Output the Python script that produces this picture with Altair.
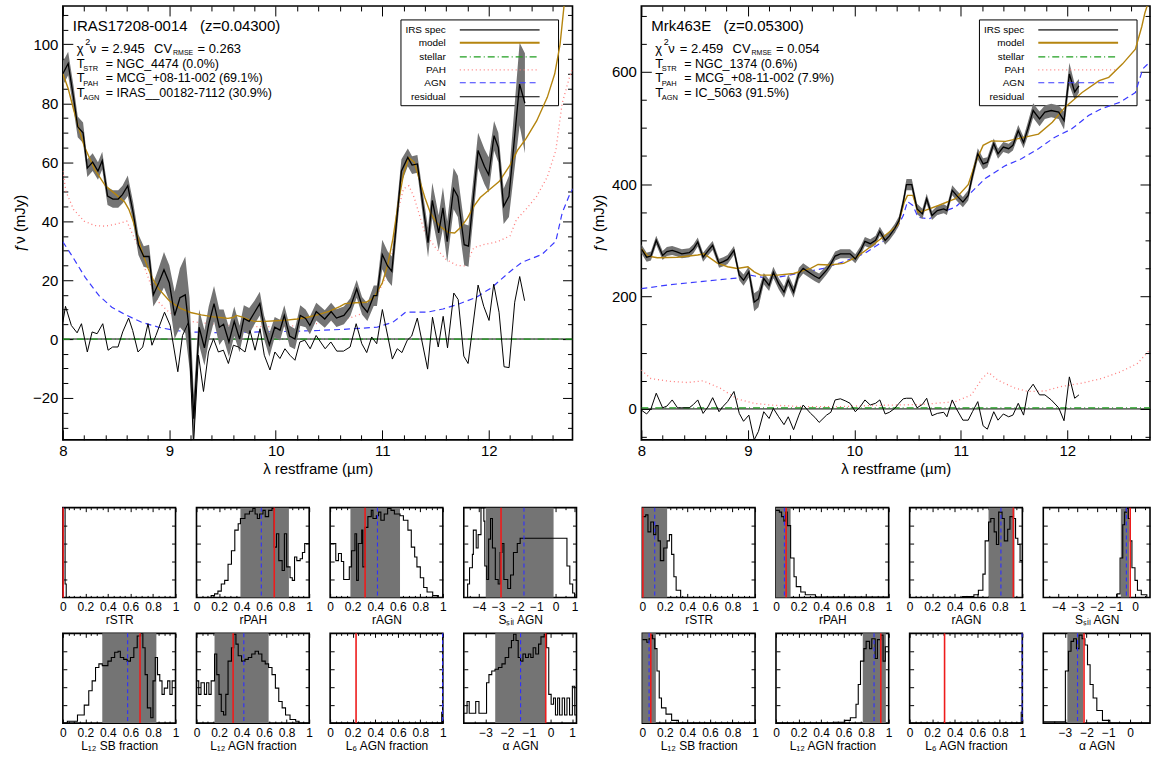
import altair as alt
import pandas as pd

FONT = "Liberation Sans"
NB = "\u00a0"

# ======================= DATA =======================
# ---------- IRAS17208-0014 spectrum panel ----------
g1_spec_lam = [8.00, 8.05, 8.10, 8.14, 8.19, 8.23, 8.28, 8.33, 8.37, 8.42,
               8.47, 8.52, 8.56, 8.61, 8.66, 8.71, 8.76, 8.81, 8.85, 8.90,
               8.95, 9.00, 9.05, 9.10, 9.15, 9.19, 9.23, 9.28, 9.33, 9.37,
               9.42, 9.47, 9.51, 9.56, 9.61, 9.66, 9.70, 9.75, 9.80, 9.85,
               9.89, 9.94, 9.99, 10.04, 10.08, 10.13, 10.18, 10.23, 10.28, 10.32,
               10.38, 10.46, 10.52, 10.57, 10.64, 10.70, 10.76, 10.81, 10.86, 10.92,
               10.95, 11.00, 11.05, 11.09, 11.18, 11.24, 11.28, 11.33, 11.38, 11.43,
               11.47, 11.53, 11.57, 11.61, 11.67, 11.71, 11.77, 11.81, 11.90, 11.96,
               12.00, 12.05, 12.09, 12.14, 12.19, 12.29, 12.34]
g1_spec_val = [90, 93.5, 82, 72, 70, 58, 60, 57, 60.5, 48.5,
               47.5, 47.5, 49, 52, 43, 32, 28, 28, 15, 19,
               23.5, 19, 8, 14, 15, 2, -27, 4, -3, 5,
               12, 4, 5, -1, 6, 0, 7, 6, 9, 12,
               4, -2, 4, 3, 8, 1, 0, 8, 7, 4.6,
               9.3, 6.8, 9.3, 7.1, 8, 10.8, 17, 11.3, 9.1, 14.7,
               14.7, 28.7, 24.8, 23, 57, 61.6, 59, 59.4, 46, 32.7,
               47, 36, 44.5, 33, 51, 48.4, 32, 31.5, 64, 58.5,
               55.7, 69, 65, 45, 48.4, 86.5, 80]
g1_spec_err = [4, 4, 4, 3.5, 3.5, 3, 3, 3, 3, 3,
               3, 3, 3, 3.5, 3.5, 3.5, 3.5, 4, 4, 5,
               6, 6, 8, 10, 13, 12, 8, 6, 6, 6,
               6, 6, 5, 5, 5, 4.5, 4.5, 4.5, 4, 4,
               4, 4, 3.5, 3.5, 3.5, 3.5, 3.5, 3.5, 3, 3,
               3, 3, 3, 3, 3, 3, 3, 3, 3, 3.5,
               3.5, 5, 5, 5, 4, 3, 3, 3, 4, 5,
               6, 6, 7, 7, 7, 7, 7, 7, 6, 6,
               6, 5, 5, 6, 7, 14, 17]
g1_res_lam = [8.0, 8.025, 8.08, 8.134, 8.175, 8.23, 8.275, 8.322, 8.375, 8.425,
              8.468, 8.518, 8.562, 8.618, 8.656, 8.706, 8.75, 8.8, 8.837, 8.874,
              8.955, 9.008, 9.08, 9.124, 9.18, 9.227, 9.274, 9.321, 9.368, 9.415,
              9.461, 9.508, 9.555, 9.602, 9.649, 9.711, 9.758, 9.805, 9.852, 9.892,
              9.945, 9.992, 10.039, 10.086, 10.133, 10.18, 10.226, 10.273,
              10.323, 10.379, 10.464, 10.517, 10.573, 10.636, 10.698, 10.755, 10.808, 10.854,
              10.901, 10.948, 11.001, 11.095, 11.141, 11.185, 11.235, 11.276, 11.329, 11.426,
              11.472, 11.526, 11.572, 11.613, 11.672, 11.713, 11.766, 11.806, 11.9, 11.953,
              12.003, 12.047, 12.097, 12.144, 12.191, 12.244, 12.291, 12.337]
g1_res_val = [5.7, 11.1, 4.6, 2.1, 5.2, -4.4, 2.4, 1.8, 5.2, -3.8,
              -2.7, -2.7, 2.4, 7.1, 2.9, -4.4, -2.7, 5.2, -2.1, 1.2,
              9.1, 4.6, -11.1, 1.2, 5.7, -35.8, -5.5, -17.8, -4.4, 0.1,
              -4.4, -3.8, -8.3, -2.1, -2.7, -4.4, 2.9, -3.8, 3.5, -5.5,
              -10.5, -4.4, -6.6, -3.3, -5.5, -7.2, -1, -0.4,
              -3.3, 1.2, -3.3, -1, -4.1, -4.1, -2.7, 5.2, -1.6, -4.6,
              0.7, -1.6, 10, -6.8, -3.3, -4.6, -0.4, 1, 7.1, -10.2,
              7.4, -2.7, 7.7, -3, 15.6, 13.4, -5.8, -8.3, 18.3, 11.1,
              6.3, 18.6, 9.1, -9.4, -9.7, 12.5, 21.2, 13]
g1_model_lam = [8.0, 8.05, 8.1, 8.15, 8.2, 8.3, 8.4, 8.5, 8.58, 8.62,
                8.66, 8.7, 8.75, 8.8, 8.85, 8.9, 9.0, 9.1, 9.2, 9.3,
                9.4, 9.5, 9.55, 9.6, 9.63, 9.68, 9.75, 9.8, 9.9, 10.0,
                10.1, 10.2, 10.3, 10.4, 10.5, 10.6, 10.65, 10.75, 10.85, 10.92,
                11.0, 11.05, 11.1, 11.15, 11.2, 11.25, 11.3, 11.35, 11.4, 11.45,
                11.5, 11.55, 11.62, 11.68, 11.74, 11.8, 11.86, 11.92, 12.0, 12.1,
                12.2, 12.27, 12.35, 12.45, 12.55, 12.62, 12.67, 12.71, 12.79]
g1_model_val = [90, 85, 78, 71.5, 65.5, 57.5, 52, 49, 46.5, 44,
                40, 35, 29, 24, 20, 17, 13, 10.5, 9.0, 8.2,
                7.6, 7.2, 7.0, 7.3, 8.0, 7.5, 6.5, 6.0, 6.0, 6.2,
                6.4, 6.8, 7.4, 8.3, 9.4, 11, 12, 12.3, 12.5, 14,
                19, 25, 34, 46, 56, 61.5, 60, 54, 48, 43,
                40, 38, 36.2, 36, 38, 41, 45, 48, 50.5, 53.5,
                59, 64, 68, 74, 82, 90, 100, 114, 135]
g1_pah_lam = [8.0, 8.03, 8.1, 8.2, 8.3, 8.4, 8.5, 8.55, 8.6, 8.65,
              8.7, 8.75, 8.8, 8.85, 8.9, 9.0, 9.1, 9.2, 9.3, 9.5,
              9.7, 9.9, 10.1, 10.3, 10.5, 10.7, 10.8, 10.9, 10.95, 11.05,
              11.1, 11.15, 11.2, 11.25, 11.3, 11.35, 11.4, 11.5, 11.6, 11.7,
              11.78, 11.86, 11.95, 12.08, 12.2, 12.26, 12.35, 12.45, 12.55, 12.63,
              12.69, 12.76, 12.79]
g1_pah_val = [57, 50, 44, 40, 38.5, 38.3, 39, 39.5, 40, 36,
              32, 26, 21, 16, 12.5, 9, 7.4, 6, 5.5, 4.8,
              4.2, 4.2, 4.3, 4.8, 5.8, 7.2, 8.5, 11, 14.7, 22.5,
              30, 44, 51, 52, 48, 42, 36, 31, 27, 25,
              24.8, 31, 32, 33, 35, 40.5, 44, 48.4, 55, 64,
              80, 89, 92]
g1_agn_lam = [8.0, 8.09, 8.21, 8.34, 8.46, 8.59, 8.74, 8.9, 9.05, 9.21,
              9.52, 9.84, 10.15, 10.4, 10.64, 10.95, 11.1, 11.22, 11.42, 11.57,
              11.72, 11.88, 12.03, 12.19, 12.31, 12.5, 12.63, 12.69, 12.76, 12.79]
g1_agn_val = [33, 28, 20.9, 14.7, 10.8, 8.2, 5.7, 4.0, 2.9, 2.4,
              2.1, 2.4, 2.6, 2.9, 3.3, 4.0, 5.7, 9.1, 9.1, 10.2,
              11.9, 14.1, 17.5, 22.6, 26, 28.7, 33.2, 42.8, 49, 51]
g1_stellar_lam = [8.0, 12.79]
g1_stellar_val = [0, 0]
g1_header = "IRAS17208-0014" + NB * 3 + "(z=0.04300)"
g1_chi = "2.945"
g1_cv = "0.263"
g1_templates = ["NGC_4474 (0.0%)", "MCG_+08-11-002 (69.1%)", "IRAS__00182-7112 (30.9%)"]

# ---------- Mrk463E spectrum panel ----------
g2_spec_lam = [8.0, 8.05, 8.09, 8.14, 8.2, 8.24, 8.29, 8.34, 8.38, 8.45,
               8.49, 8.53, 8.58, 8.63, 8.67, 8.73, 8.77, 8.81, 8.87, 8.92,
               8.96, 9.01, 9.06, 9.1, 9.15, 9.2, 9.24, 9.29, 9.34, 9.38,
               9.43, 9.48, 9.52, 9.59, 9.63, 9.67, 9.74, 9.78, 9.82, 9.87,
               9.92, 9.96, 10.01, 10.06, 10.1, 10.15, 10.2, 10.24, 10.29, 10.33,
               10.38, 10.42, 10.46, 10.49, 10.54, 10.59, 10.64, 10.68, 10.73, 10.78,
               10.84, 10.87, 10.92, 10.96, 11.02, 11.07, 11.11, 11.16, 11.21, 11.25,
               11.31, 11.35, 11.4, 11.45, 11.49, 11.54, 11.59, 11.63, 11.68, 11.74,
               11.79, 11.85, 11.92, 11.97, 12.02, 12.07, 12.11]
g2_spec_val = [285, 270, 272, 300, 273, 280, 282, 279, 276, 278,
               285, 297, 270, 282, 291, 259, 262, 266, 282, 238,
               229, 244, 190, 196, 232, 220, 243, 223, 208, 229,
               208, 241, 250, 241, 236, 232, 247, 258, 272, 276,
               276, 276, 267, 282, 298, 294, 300, 316, 300, 308,
               321, 335, 368, 399, 399, 356, 347, 374, 344, 353,
               356, 353, 389, 380, 368, 380, 415, 454, 436, 439,
               472, 454, 466, 463, 469, 495, 474, 498, 531, 516,
               528, 531, 528, 513, 596, 564, 575]
g2_spec_err = [8, 8, 8, 8, 8, 8, 8, 8, 8, 8,
               8, 8, 8, 8, 8, 8, 8, 8, 8, 9,
               10, 10, 16, 15, 10, 10, 10, 10, 10, 10,
               10, 10, 9, 9, 9, 9, 8, 8, 8, 8,
               8, 8, 8, 8, 8, 8, 8, 8, 8, 8,
               8, 8, 9, 10, 10, 9, 9, 9, 8, 8,
               8, 8, 9, 9, 9, 9, 10, 10, 10, 9,
               9, 9, 9, 9, 9, 10, 10, 12, 13, 13,
               12, 12, 12, 16, 20, 14, 12]
g2_res_val = [-2, -9, 0, 28, 2, 5, 16, 2, 2, 2,
              8, 16, -8, 5, 20, -5, 5, 13, 31, -8,
              -22, -11, -55, -40, -5, -17, 1, -14, -28, -14,
              -37, -11, 7, -8, -15, -24, -11, -6, 16, 18,
              14, 10, -5, 5, 16, 7, 10, 16, -9, -6,
              1, 10, 18, 19, 19, 2, 8, 19, -12, -8,
              -6, -14, 16, 0, -20, -20, -5, 13, -30, -36,
              -5, -20, -9, -14, -11, 10, -11, 31, 44, 25,
              25, 16, 2, -21, 57, 19, 25]
g2_model_lam = [8.0, 8.06, 8.15, 8.34, 8.53, 8.59, 8.71, 8.81, 8.9, 9.0,
                9.06, 9.12, 9.28, 9.43, 9.59, 9.66, 9.77, 9.9, 10.02, 10.15,
                10.27, 10.35, 10.41, 10.47, 10.5, 10.55, 10.6, 10.66, 10.79, 10.95,
                11.07, 11.14, 11.21, 11.29, 11.42, 11.54, 11.73, 11.86, 11.98, 12.14,
                12.3, 12.39, 12.52, 12.64, 12.7, 12.73, 12.79]
g2_model_val = [285, 272, 269, 270, 274, 276, 260, 253, 250, 253,
                244, 238, 238, 241, 250, 257, 256, 259, 270, 288,
                306, 318, 327, 368, 380, 380, 350, 353, 362, 374,
                399, 439, 469, 477, 476, 481, 489, 510, 537, 563,
                584, 590, 614, 640, 680, 705, 740]
g2_pah_lam = [8.0, 8.09, 8.27, 8.43, 8.58, 8.74, 8.9, 9.06, 9.21, 9.52,
              9.84, 10.15, 10.4, 10.64, 10.95, 11.1, 11.2, 11.26, 11.35, 11.51,
              11.63, 11.79, 11.95, 12.14, 12.32, 12.5, 12.66, 12.79]
g2_pah_val = [69, 54, 49, 47, 50, 37, 18, 10, 7, 4,
              4, 6, 7, 8, 13, 25, 54, 65, 51, 37,
              31, 32, 40, 46, 54, 66, 81, 108]
g2_agn_lam = [8.0, 8.27, 8.58, 8.9, 9.02, 9.2, 9.36, 9.52, 9.71, 9.9,
              10.09, 10.27, 10.38, 10.46, 10.5, 10.55, 10.6, 10.7, 10.82, 10.95,
              11.07, 11.23, 11.42, 11.57, 11.73, 11.88, 12.04, 12.2, 12.32, 12.5,
              12.64, 12.71, 12.79]
g2_agn_val = [214, 221, 227, 233, 238, 232, 237, 243, 250, 262,
              276, 298, 315, 344, 369, 362, 341, 338, 350, 359,
              380, 410, 433, 445, 463, 483, 498, 522, 534, 546,
              563, 605, 620]
g2_stellar_lam = [8.0, 12.79]
g2_stellar_val = [2, 2]
g2_header = "Mrk463E" + NB * 3 + "(z=0.05300)"
g2_chi = "2.459"
g2_cv = "0.054"
g2_templates = ["NGC_1374 (0.6%)", "MCG_+08-11-002 (7.9%)", "IC_5063 (91.5%)"]

template_subs = ["STR", "PAH", "AGN"]
legend_labels = ["IRS spec", "model", "stellar", "PAH", "AGN", "residual"]

# ---------- posterior panels ----------
par_titles = ["rSTR", "rPAH", "rAGN", "Sₛᵢₗ AGN",
              "L₁₂ SB fraction", "L₁₂ AGN fraction", "L₆ AGN fraction", "α AGN"]
frac_ticks = [0, 0.2, 0.4, 0.6, 0.8, 1]
frac_minor = [0.05, 0.1, 0.15, 0.25, 0.3, 0.35, 0.45, 0.5, 0.55, 0.65, 0.7, 0.75, 0.85, 0.9, 0.95]
ssil_ticks = [-4, -3, -2, -1, 0, 1]
ssil_minor = [-4.5, -3.5, -2.5, -1.5, -0.5, 0.5]
alpha_ticks = [-3, -2, -1, 0, 1]
alpha_minor = [-3.5, -2.5, -1.5, -0.5, 0.5]
hist_yticks = [0.2, 0.4, 0.6, 0.8]

# IRAS17208-0014 posteriors
p1_x = [
    [0, 0.02, 0.03, 1.0],
    [0, 0.13, 0.16, 0.19, 0.22, 0.25, 0.28, 0.31, 0.34, 0.37, 0.39, 0.43, 0.47, 0.5, 0.52, 0.54, 0.56, 0.59,
     0.61, 0.64, 0.67, 0.69, 0.71, 0.73, 0.76, 0.78, 0.8, 0.83, 0.85, 0.87, 0.89, 0.92, 0.94, 0.96, 0.98, 1.0],
    [0, 0.05, 0.074, 0.1, 0.12, 0.15, 0.17, 0.19, 0.22, 0.235, 0.25, 0.28, 0.29, 0.31, 0.335, 0.365, 0.38, 0.41,
     0.43, 0.45, 0.48, 0.51, 0.54, 0.57, 0.62, 0.65, 0.69, 0.72, 0.75, 0.77, 0.8, 0.83, 0.86, 0.91, 0.96, 1.0],
    [-4.8, -4.6, -4.5, -4.35, -4.3, -4.15, -4.05, -3.9, -3.75, -3.7, -3.6, -3.5, -3.4, -3.3, -3.15, -3.0, -2.9,
     -2.8, -2.7, -2.5, -2.35, -2.2, -2.0, -1.85, 0.55, 0.6, 0.75, 0.9, 1.0, 1.1],
    [0, 0.04, 0.13, 0.19, 0.23, 0.26, 0.29, 0.32, 0.35, 0.4, 0.43, 0.46, 0.49, 0.51, 0.54, 0.57, 0.6, 0.63, 0.66,
     0.69, 0.71, 0.73, 0.75, 0.78, 0.8, 0.82, 0.84, 0.86, 0.88, 0.9, 0.93, 0.95, 0.97, 1.0],
    [0, 0.02, 0.04, 0.07, 0.09, 0.11, 0.13, 0.16, 0.18, 0.2, 0.22, 0.24, 0.26, 0.28, 0.31, 0.33, 0.35, 0.37, 0.4,
     0.43, 0.46, 0.49, 0.52, 0.55, 0.58, 0.61, 0.64, 0.67, 0.7, 0.73, 0.76, 0.79, 0.83, 0.88, 0.91, 1.0],
    [0, 0.99, 1.0],
    [-4, -3.85, -3.75, -3.6, -3.45, -3.3, -3.1, -2.95, -2.84, -2.71, -2.56, -2.4, -2.24, -2.09, -1.93, -1.8, -1.7,
     -1.59, -1.49, -1.38, -1.27, -1.15, -1.02, -0.91, -0.8, -0.68, -0.55, -0.44, -0.29, -0.18, -0.08, 0.03, 0.14,
     0.23, 0.33, 0.42, 0.54, 0.65, 0.76, 0.88, 1.01, 1.12, 1.2],
]
p1_y = [
    [1.0, 0.15, 0.0, 0.0],
    [0, 0.02, 0.04, 0.07, 0.15, 0.19, 0.37, 0.52, 0.75, 0.82, 0.88, 0.93, 0.96, 0.99, 0.93, 0.88, 0.93, 0.97,
     0.9, 0.97, 0.99, 0.56, 0.71, 0.41, 0.3, 0.71, 0.34, 0.22, 0.19, 0.45, 0.41, 0.43, 0.5, 0.6, 0.6, 0.6],
    [0.6, 0.41, 0.49, 0.4, 0.2, 0.2, 0.34, 0.52, 0.71, 0.19, 0.6, 0.75, 0.34, 0.78, 0.9, 0.97, 0.88, 0.91,
     0.95, 0.86, 0.93, 0.99, 0.97, 0.93, 0.91, 0.86, 0.75, 0.56, 0.45, 0.34, 0.22, 0.11, 0.06, 0.02, 0.0, 0.0],
    [0.0, 0.15, 0.33, 0.48, 0.75, 0.55, 0.7, 1.0, 0.85, 0.35, 0.2, 0.65, 0.88, 0.55, 0.2, 0.15, 0.5,
     0.6, 0.2, 0.1, 0.25, 0.5, 0.6, 0.66, 0.66, 0.35, 0.15, 0.05, 0.0, 0.0],
    [0.0, 0.02, 0.09, 0.2, 0.36, 0.47, 0.62, 0.66, 0.64, 0.69, 0.73, 0.79, 0.8, 0.73, 0.71, 0.69, 0.73, 0.84, 0.97,
     1.0, 0.84, 0.54, 0.17, 0.06, 0.47, 0.73, 0.54, 0.47, 0.32, 0.39, 0.47, 0.32, 0.47, 0.32],
    [0.47, 0.32, 0.45, 0.32, 0.45, 0.32, 0.47, 0.77, 0.54, 0.32, 0.13, 0.09, 0.32, 0.69, 0.84, 0.99, 0.88, 0.75, 0.69,
     0.71, 0.73, 0.77, 0.8, 0.77, 0.69, 0.66, 0.62, 0.54, 0.39, 0.24, 0.17, 0.09, 0.04, 0.02, 0.0, 0.0],
    [0.0, 0.12, 0.12],
    [0.11, 0.24, 0.11, 0.11, 0.24, 0.11, 0.11, 0.45, 0.54, 0.58, 0.6, 0.62, 0.66, 0.73, 0.84, 0.92, 0.99,
     0.92, 0.73, 0.69, 0.77, 0.73, 0.77, 0.73, 0.84, 0.77, 0.88, 0.96, 0.99, 0.84, 0.32, 0.21, 0.28,
     0.09, 0.28, 0.09, 0.28, 0.09, 0.28, 0.09, 0.41, 0.09, 0.09],
]
p1_band = [None, [0.39, 0.82], [0.18, 0.62], [-3.65, -0.1], [0.35, 0.83], [0.16, 0.64], None, [-2.55, -0.22]]
p1_median = [0.006, 0.575, 0.42, -1.65, 0.575, 0.42, 0.998, -1.38]
p1_best = [0.003, 0.69, 0.31, -2.85, 0.685, 0.325, 0.23, -0.22]

# Mrk463E posteriors
p2_x = [
    [0, 0.03, 0.05, 0.075, 0.1, 0.12, 0.14, 0.16, 0.19, 0.22, 0.24, 0.26, 0.28, 0.3, 0.34, 1.0],
    [0, 0.03, 0.05, 0.07, 0.085, 0.1, 0.13, 0.16, 0.18, 0.22, 0.26, 0.35, 1.0],
    [0, 0.47, 0.57, 0.61, 0.65, 0.67, 0.7, 0.72, 0.75, 0.77, 0.79, 0.82, 0.84, 0.87, 0.89, 0.92, 0.94, 0.96,
     0.98, 1.0],
    [-4.8, -1.5, -0.93, -0.78, -0.64, -0.54, -0.45, -0.35, -0.25, -0.16, 0.0, 0.13, 0.33, 0.62, 1.1],
    [0, 0.04, 0.06, 0.075, 0.09, 0.11, 0.13, 0.15, 0.17, 0.21, 0.26, 0.32, 1.0],
    [0, 0.51, 0.61, 0.66, 0.71, 0.73, 0.75, 0.78, 0.8, 0.83, 0.85, 0.88, 0.9, 0.93, 0.95, 0.97, 1.0],
    [0, 0.99, 1.0],
    [-4, -3.15, -2.98, -2.84, -2.72, -2.6, -2.47, -2.35, -2.21, -2.08, -1.96, -1.84, -1.7, -1.53, -1.27, -0.93,
     1.2],
]
p2_y = [
    [0.9, 0.92, 0.73, 0.84, 0.7, 0.8, 0.63, 0.41, 0.55, 0.63, 0.7, 0.48, 0.23, 0.08, 0.0, 0.0],
    [0.97, 0.95, 0.9, 0.85, 0.95, 0.8, 0.44, 0.23, 0.12, 0.06, 0.03, 0.005, 0.0],
    [0.0, 0.01, 0.03, 0.08, 0.26, 0.63, 0.84, 0.88, 0.73, 0.59, 0.95, 0.88, 0.63, 0.76, 0.9, 0.88, 0.66, 0.59,
     0.41, 0.41],
    [0.0, 0.0, 0.04, 0.44, 0.81, 0.95, 0.99, 0.88, 0.63, 0.33, 0.19, 0.08, 0.03, 0.0, 0.0],
    [0.93, 0.9, 0.94, 0.98, 0.94, 0.83, 0.58, 0.28, 0.17, 0.1, 0.03, 0.0, 0.0],
    [0.0, 0.01, 0.03, 0.06, 0.21, 0.43, 0.69, 0.83, 0.91, 0.83, 0.94, 0.72, 0.93, 0.98, 0.69, 0.85, 0.87],
    [0.0, 0.12, 0.12],
    [0.015, 0.015, 0.58, 0.8, 0.91, 0.94, 0.83, 0.98, 0.94, 0.87, 0.65, 0.43, 0.28, 0.14, 0.03, 0.0, 0.0],
]
p2_band = [[0.0, 0.22], [0.0, 0.13], [0.7, 0.93], [-0.74, -0.31], [0.0, 0.12], [0.77, 0.975], None, [-2.89, -2.16]]
p2_median = [0.11, 0.075, 0.81, -0.45, 0.06, 0.87, 0.998, -2.42]
p2_best = [0.005, 0.09, 0.92, -0.25, 0.075, 0.93, 0.31, -2.12]

# ======================= LAYOUT / STYLE =======================
BIG_W1, BIG_W2, BIG_H = 511, 510, 435
SM_W, SM_H = 113, 90
LEG_BOX = (339, 497, 14, 100)
LEG_ROWS = [24, 37, 51, 64, 77, 91]
LEG_TXT_X, LEG_L0, LEG_L1 = 384, 398, 478
LEG_STYLE = [dict(color="#555555", strokeWidth=1.6),
             dict(color="#b5850f", strokeWidth=2.0),
             dict(color="#1f9e1f", strokeWidth=1.3, strokeDash=[7, 3, 1, 3]),
             dict(color="#ff7b7b", strokeWidth=1.3, strokeDash=[1, 3]),
             dict(color="#3a3aff", strokeWidth=1.2, strokeDash=[6, 4]),
             dict(color="black", strokeWidth=1.2)]

one = pd.DataFrame({"k": [0]})


def ax(orient, values, size, labels=False, title="", **kw):
    return alt.Axis(orient=orient, values=values, tickSize=size, offset=-size, labels=labels,
                    domain=False, grid=False, title=title, tickColor="black", tickWidth=1,
                    labelFlush=False, labelOverlap=False, **kw)


def tick_layer(df, xf, xs, xvals, xorient, size, yf, ys, yvals, yorient):
    return alt.Chart(df).mark_point(opacity=0, size=0).encode(
        x=alt.X(f"{xf}:Q", scale=xs, axis=ax(xorient, xvals, size)),
        y=alt.Y(f"{yf}:Q", scale=ys, axis=ax(yorient, yvals, size)))


def text(t, x, y, size, align="left"):
    return alt.Chart(one).mark_text(text=t, align=align, baseline="middle", fontSize=size,
                                    font=FONT, color="black").encode(x=alt.value(x), y=alt.value(y))


def big_panel(W, spec_lam, spec_val, spec_err, res_lam, res_val, model_lam, model_val,
              pah_lam, pah_val, agn_lam, agn_val, st_lam, st_val, ydom, ymaj, ymin,
              header, chi, cv, templates):
    xmax = 8 + W / 106.75
    xs = alt.Scale(domain=[8, xmax], nice=False, zero=False)
    ys = alt.Scale(domain=ydom, nice=False, zero=False)
    X = alt.X("lam:Q", scale=xs, axis=None)
    Y = alt.Y("val:Q", scale=ys, axis=None)
    spec = pd.DataFrame({"lam": spec_lam, "val": spec_val, "err": spec_err})
    spec["lo"] = spec["val"] - spec["err"]
    spec["hi"] = spec["val"] + spec["err"]

    layers = [
        alt.Chart(one).mark_rect(fill="white", stroke="black", strokeWidth=1).encode(
            x=alt.value(LEG_BOX[0]), x2=alt.value(LEG_BOX[1]), y=alt.value(LEG_BOX[2]), y2=alt.value(LEG_BOX[3])),
        alt.Chart(pd.DataFrame({"lam": pah_lam, "val": pah_val})).mark_line(clip=True, **LEG_STYLE[3]).encode(x=X, y=Y),
        alt.Chart(pd.DataFrame({"lam": agn_lam, "val": agn_val})).mark_line(clip=True, **LEG_STYLE[4]).encode(x=X, y=Y),
        alt.Chart(pd.DataFrame({"val": [0]})).mark_rule(color="black", strokeWidth=1).encode(y=Y),
        alt.Chart(pd.DataFrame({"lam": st_lam, "val": st_val})).mark_line(clip=True, **LEG_STYLE[2]).encode(x=X, y=Y),
        alt.Chart(spec).mark_area(color="#747474", opacity=1, clip=True).encode(
            x=X, y=alt.Y("lo:Q", scale=ys, axis=None), y2="hi:Q"),
        alt.Chart(pd.DataFrame({"lam": model_lam, "val": model_val})).mark_line(
            clip=True, color="#b5850f", strokeWidth=1.4).encode(x=X, y=Y),
        alt.Chart(spec).mark_line(color="black", strokeWidth=1.3, clip=True).encode(
            x=alt.X("lam:Q", scale=xs, axis=ax("bottom", [8, 9, 10, 11, 12], 10, labels=True,
                                                title="λ restframe (µm)", labelFontSize=15, titleFontSize=15,
                                                labelPadding=4, titlePadding=3)),
            y=alt.Y("val:Q", scale=ys, axis=ax("left", ymaj, 10, labels=True, title="ƒν (mJy)",
                                                labelFontSize=15, titleFontSize=15, labelPadding=5,
                                                titlePadding=5))),
        alt.Chart(pd.DataFrame({"lam": res_lam, "val": res_val})).mark_line(
            clip=True, color="black", strokeWidth=1).encode(x=X, y=Y),
    ]
    for lab, yy, st in zip(legend_labels, LEG_ROWS, LEG_STYLE):
        layers.append(text(lab, LEG_TXT_X, yy, 10, align="right"))
        layers.append(alt.Chart(one).mark_rule(**st).encode(
            x=alt.value(LEG_L0), x2=alt.value(LEG_L1), y=alt.value(yy)))
    # header and fit statistics
    layers.append(text(header, 10, 20, 15))
    layers.append(text("χ", 14, 43, 13))
    layers.append(text("2", 22.5, 36.5, 9))
    layers.append(text("ν", 27, 43, 13))
    layers.append(text("= " + chi, 38.5, 43, 13))
    layers.append(text("CV", 91.5, 43, 13))
    layers.append(text("RMSE", 110.5, 47, 7))
    layers.append(text("= " + cv, 135, 43, 13))
    for i, (sub, tv) in enumerate(zip(template_subs, templates)):
        yy = 58 + 14.5 * i
        layers.append(text("T", 14, yy, 13))
        layers.append(text(sub, 20.5, yy + 5.5, 7.5))
        layers.append(text("= " + tv, 43, yy, 12.5))

    xmin = [round(8 + 0.2 * k, 1) for k in range(1, 24) if k % 5 != 0]
    dummy = pd.DataFrame({"lam": [8.0], "val": [0.0]})
    layers.append(tick_layer(dummy, "lam", xs, [8, 9, 10, 11, 12], "top", 10, "val", ys, ymaj, "right"))
    layers.append(tick_layer(dummy, "lam", xs, xmin, "bottom", 5, "val", ys, ymin, "left"))
    layers.append(tick_layer(dummy, "lam", xs, xmin, "top", 5, "val", ys, ymin, "right"))
    return alt.layer(*layers).resolve_axis(x="independent", y="independent").properties(
        width=W, height=BIG_H)


def small_panel(hx, hy, band, med, best, dom, ticks, minor, title, W=SM_W):
    xs = alt.Scale(domain=dom, nice=False, zero=False)
    ys = alt.Scale(domain=[0, 1], nice=False, zero=False)
    tk = [t for t in ticks if dom[0] <= t <= dom[1]]
    mn = [t for t in minor if dom[0] <= t <= dom[1]]
    layers = []
    if band is not None:
        layers.append(alt.Chart(pd.DataFrame({"x": [band[0]], "x2": [band[1]]})).mark_rect(
            color="#747474").encode(x=alt.X("x:Q", scale=xs, axis=None), x2="x2:Q",
                                    y=alt.value(0), y2=alt.value(SM_H)))
    layers.append(alt.Chart(pd.DataFrame({"x": hx, "y": hy})).mark_line(
        interpolate="step-after", color="black", strokeWidth=1.1, clip=True).encode(
        x=alt.X("x:Q", scale=xs, axis=ax("bottom", tk, 4, labels=True, title=title, format="~g",
                                          labelFontSize=12, titleFontSize=12,
                                          labelPadding=4, titlePadding=2)),
        y=alt.Y("y:Q", scale=ys, axis=ax("left", hist_yticks, 4))))
    layers.append(alt.Chart(pd.DataFrame({"x": [med]})).mark_rule(
        color="#2f2fff", strokeDash=[4, 3], strokeWidth=1.1).encode(x=alt.X("x:Q", scale=xs, axis=None)))
    layers.append(alt.Chart(pd.DataFrame({"x": [best]})).mark_rule(
        color="#ee1c1c", strokeWidth=1.6).encode(x=alt.X("x:Q", scale=xs, axis=None)))
    dummy = pd.DataFrame({"x": [dom[0]], "y": [0.0]})
    layers.append(tick_layer(dummy, "x", xs, tk, "top", 4, "y", ys, hist_yticks, "right"))
    layers.append(tick_layer(dummy, "x", xs, mn, "bottom", 2, "y", ys, [], "left"))
    layers.append(tick_layer(dummy, "x", xs, mn, "top", 2, "y", ys, [], "right"))
    return alt.layer(*layers).resolve_axis(x="independent", y="independent").properties(
        width=W, height=SM_H)


def spacer(w):
    return alt.Chart(one).mark_point(opacity=0, size=0).encode(
        x=alt.X("k:Q", axis=None), y=alt.Y("k:Q", axis=None)).properties(
        width=w, height=SM_H, view=alt.ViewBackground(strokeOpacity=0))


def panel_list(px, py, pband, pmed, pbest, idx, right_clip=False):
    out = []
    for i in idx:
        if i in (0, 1, 2, 4, 5, 6):
            dom, ticks, minor = [0, 1], frac_ticks, frac_minor
        elif i == 3:
            dom, ticks, minor = [-4.8, 1.1], ssil_ticks, ssil_minor
        else:
            dom, ticks, minor = [-4.0, 1.2], alpha_ticks, alpha_minor
        W = SM_W
        if right_clip and i in (3, 7):
            W = 107
            dom = [dom[0], dom[0] + (dom[1] - dom[0]) * W / SM_W]
        out.append(small_panel(px[i], py[i], pband[i], pmed[i], pbest[i], dom, ticks, minor,
                               par_titles[i], W=W))
    return out


tl = big_panel(BIG_W1, g1_spec_lam, g1_spec_val, g1_spec_err, g1_res_lam, g1_res_val,
               g1_model_lam, g1_model_val, g1_pah_lam, g1_pah_val, g1_agn_lam, g1_agn_val,
               g1_stellar_lam, g1_stellar_val, [-34.2, 113.0], [-20, 0, 20, 40, 60, 80, 100],
               [v for v in range(-30, 115, 5) if v % 20 != 0], g1_header, g1_chi, g1_cv, g1_templates)
tr = big_panel(BIG_W2, g2_spec_lam, g2_spec_val, g2_spec_err, g2_spec_lam, g2_res_val,
               g2_model_lam, g2_model_val, g2_pah_lam, g2_pah_val, g2_agn_lam, g2_agn_val,
               g2_stellar_lam, g2_stellar_val, [-55.0, 717.0], [0, 200, 400, 600],
               [v for v in range(-50, 720, 50) if v % 200 != 0], g2_header, g2_chi, g2_cv, g2_templates)

top = alt.hconcat(tl, tr, spacing=69, bounds="flush")
rows = []
for idx in ([0, 1, 2, 3], [4, 5, 6, 7]):
    left = panel_list(p1_x, p1_y, p1_band, p1_median, p1_best, idx)
    right = panel_list(p2_x, p2_y, p2_band, p2_median, p2_best, idx, right_clip=True)
    rows.append(alt.hconcat(*left, spacer(24), *right, spacing=21, bounds="flush"))
bottom = alt.vconcat(*rows, spacing=5, bounds="full")

chart = alt.vconcat(top, bottom, spacing=28, bounds="full").properties(
    padding={"left": 11, "top": 3, "right": 0, "bottom": 0}
).configure(font=FONT).configure_view(stroke="black", strokeWidth=1.6).configure_axis(
    labelFont=FONT, titleFont=FONT, labelColor="black", titleColor="black", titleFontWeight="normal")

chart.save("out.html", embed_options={"renderer": "svg", "actions": False})
